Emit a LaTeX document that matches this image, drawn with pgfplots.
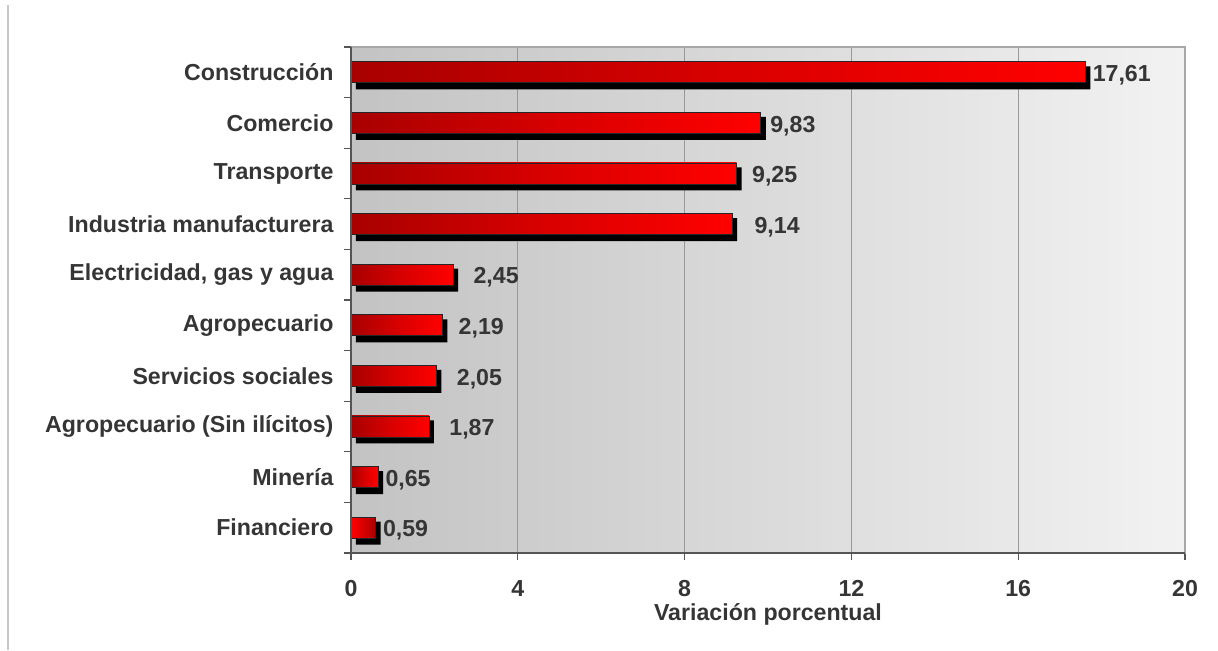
\documentclass[border=0pt]{standalone}
\usepackage{pgfplots}
\pgfplotsset{compat=1.18}
\usepackage{fontspec}
\setmainfont{Liberation Sans}
\definecolor{txt}{HTML}{353535}
\definecolor{bgL}{HTML}{C3C3C3}
\definecolor{bgR}{HTML}{F2F2F2}
\definecolor{barL}{HTML}{A80000}
\definecolor{barM}{HTML}{D80000}
\definecolor{barR}{HTML}{FF0000}
\definecolor{frameL}{HTML}{A8A8A8}
\definecolor{axisD}{HTML}{555555}
\pgfplotsset{
  shadowbar/.style={xbar, bar width=13.8pt, bar shift=-3.3pt, xshift=3pt, fill=black, draw=none},
  redbar/.style={xbar, bar width=12.6pt, left color=barL, right color=barR, middle color=barM,
    draw=black!85, line width=0.5pt, nodes near coords, point meta=x,
    nodes near coords style={anchor=west, inner sep=0pt, xshift=#1pt, yshift=-1.8pt, text=txt,
      /pgf/number format/.cd, fixed, fixed zerofill, precision=2, use comma, assume math mode=true}},
  redbarrev/.style={redbar=#1, left color=barR, right color=barL, middle color=barM},
}
\begin{document}
\begin{tikzpicture}
\useasboundingbox (0,0) rectangle (730.8pt,390.6pt);
\draw[color=bgL!90!white, line width=1.2pt] (4.8pt,387.6pt) -- (4.8pt,0.6pt);
\begin{axis}[
  at={(210.6pt,58.8pt)}, anchor=south west,
  width=500.4pt, height=303.6pt, scale only axis,
  xmin=0, xmax=20, ymin=-0.5, ymax=9.5,
  xtick={0,4,...,20},
  ytick={0,...,9},
  yticklabels={Financiero,Minería,Agropecuario (Sin ilícitos),Servicios sociales,Agropecuario,{Electricidad, gas y agua},Industria manufacturera,Transporte,Comercio,Construcción},
  font=\fontsize{13.9pt}{16pt}\selectfont\bfseries,
  /pgf/number format/assume math mode=true,
  ticklabel style={text=txt},
  yticklabel style={anchor=east, xshift=-2.8pt},
  xticklabel style={anchor=north, yshift=-8.8pt},
  ytick style={draw=none},
  xtick pos=bottom,
  tick align=outside,
  major tick length=4.2pt,
  xtick style={draw=axisD, line width=0.8pt},
  xmajorgrids,
  grid style={draw=black!40, line width=0.6pt},
  axis line style={draw=frameL, line width=0.8pt},
  axis background/.style={left color=bgL, right color=bgR},
  xlabel={Variación porcentual},
  xlabel style={at={(axis description cs:0.5,0)}, anchor=center, yshift=-36.6pt, text=txt},
  clip=false,
  after end axis/.code={
    \draw[axisD, line width=1pt] (rel axis cs:0,1) -- (rel axis cs:0,0) -- (rel axis cs:1,0);
    \foreach \yy in {-0.5,0.5,...,9.5} {\draw[axisD, line width=0.8pt] (axis cs:0,\yy) -- ++(-4.2pt,0);}
  },
]
% shadows
\addplot[shadowbar] coordinates {(17.61,9) (9.83,8) (9.25,7) (9.14,6) (2.45,5) (2.19,4) (2.05,3) (1.87,2) (0.65,1) (0.59,0)};
% bars, one plot per bar so that each bar has its own gradient
\addplot[redbar=4.2]  coordinates {(17.61,9)};
\addplot[redbar=5.4]  coordinates {(9.83,8)};
\addplot[redbar=9.0]  coordinates {(9.25,7)};
\addplot[redbar=13.2] coordinates {(9.14,6)};
\addplot[redbar=12.0] coordinates {(2.45,5)};
\addplot[redbar=9.6]  coordinates {(2.19,4)};
\addplot[redbar=12.0] coordinates {(2.05,3)};
\addplot[redbar=12.0] coordinates {(1.87,2)};
\addplot[redbar=4.2]  coordinates {(0.65,1)};
\addplot[redbarrev=4.2] coordinates {(0.59,0)};
\end{axis}
\end{tikzpicture}
\end{document}
